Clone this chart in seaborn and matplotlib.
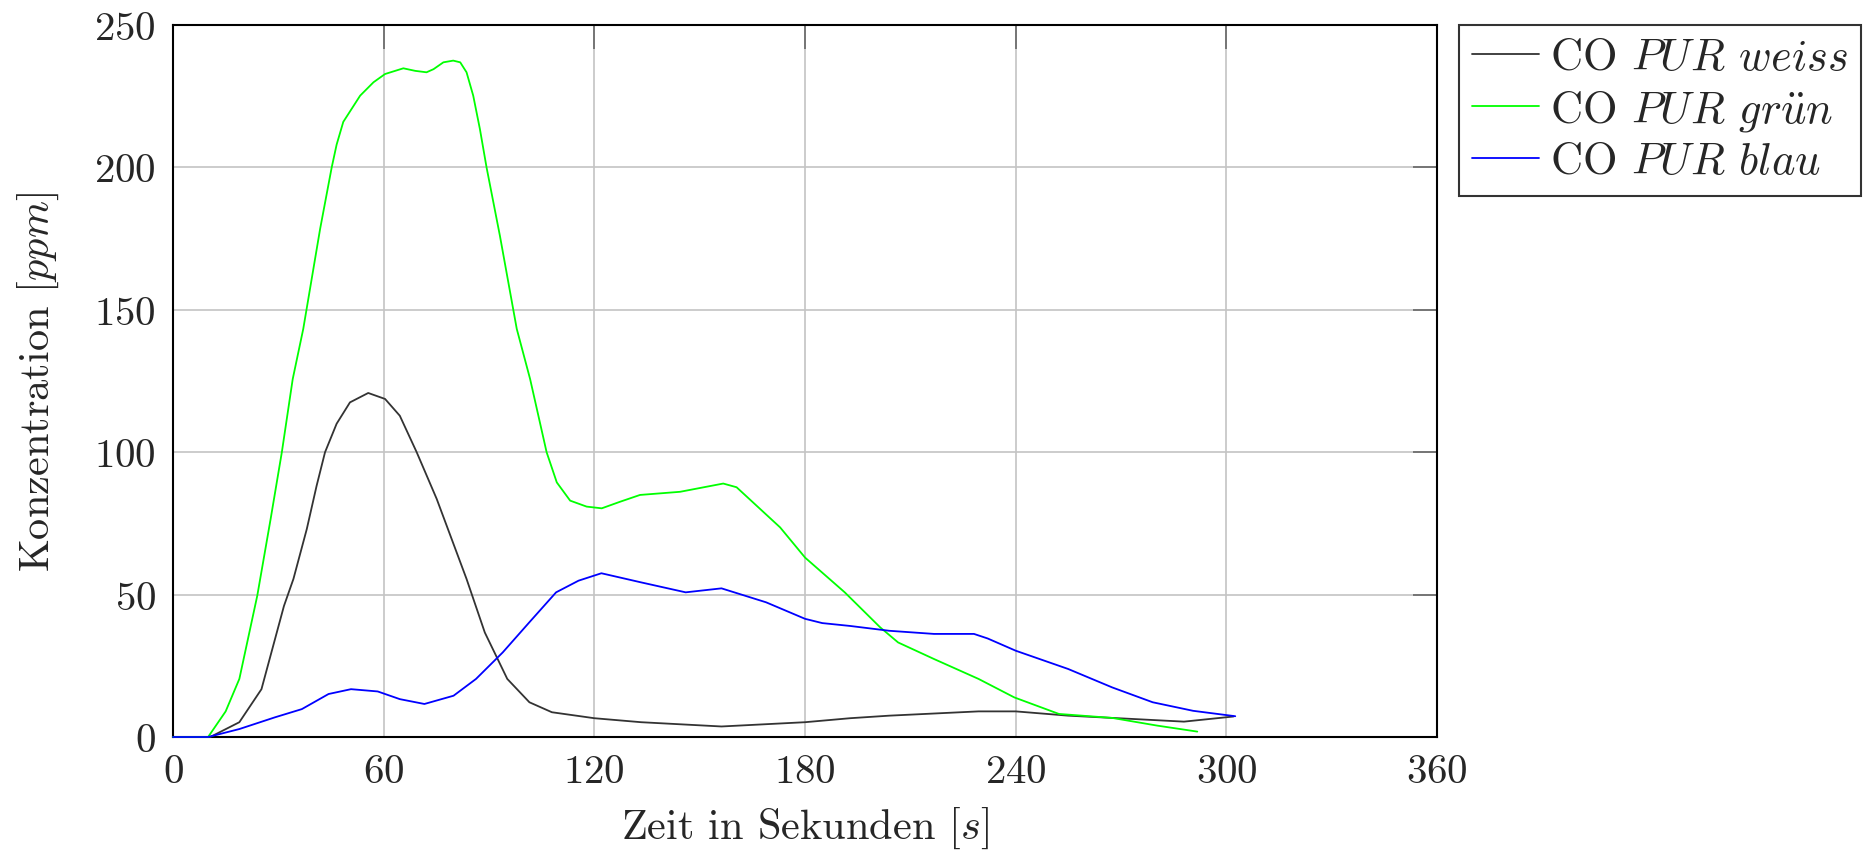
import matplotlib
matplotlib.use("Agg")
import matplotlib.pyplot as plt
import seaborn as sns
import pandas as pd

# --- data ---
t_weiss = [0, 10.6, 18.9, 25.2, 31.6, 34.3, 38.1, 40.9, 43.3, 46.6, 50.4, 55.6, 60.4, 64.6,
           69.4, 75.1, 83.6, 88.8, 95.2, 101.5, 107.9, 120, 133.3, 156.2, 180, 192.8, 204,
           229.4, 240, 254.9, 273.9, 287.9, 302]
v_weiss = [0, 0, 5.2, 16.8, 46, 55.5, 73, 88.2, 100, 110.0, 117.5, 120.8, 118.7, 112.8,
           100, 83.6, 55.5, 36.7, 20.4, 12.2, 8.7, 6.6, 5.2, 3.7, 5.2, 6.6, 7.5,
           9.0, 9.0, 7.5, 6.3, 5.4, 7.2]

t_gruen = [0, 10.0, 15.0, 18.9, 24.0, 27.8, 31.0, 34.1, 37.1, 41.9, 45.2, 46.6, 48.5, 53.3,
           57.1, 60.4, 65.6, 69.0, 72.2, 74.2, 77.0, 79.8, 81.8, 83.6, 85.5, 87.4, 89.3,
           93.1, 97.9, 101.7, 106.4, 109.3, 113.1, 117.8, 122.1, 127.3, 133.0, 144.4, 156.7,
           160.5, 172.9, 180, 191.3, 201.4, 206.5, 216.7, 229.4, 239.6, 252.3, 267.5, 280.3,
           291.7]
v_gruen = [0, 0, 9, 20.4, 49.6, 76.5, 100, 125.7, 143.3, 178.4, 200, 208, 216, 225.2,
           229.9, 232.8, 234.8, 233.9, 233.4, 234.5, 236.9, 237.5, 236.9, 233.4, 225.2, 213.5,
           200, 176, 143.3, 125.7, 100, 89.4, 83, 80.9, 80.3, 82.6, 85, 86.1, 89,
           87.7, 73.6, 63, 50.8, 38.5, 33.2, 27.4, 20.4, 13.9, 8.1, 6.7, 4.0,
           1.9]

t_blau = [0, 10.0, 18.9, 29.0, 36.7, 44.3, 50.7, 58.3, 64.6, 71.6, 79.9, 86.3, 93.9, 101.5,
          109.1, 115.5, 122.0, 133.3, 146.0, 156.2, 168.9, 180, 184.9, 192.8, 204, 216.7,
          228.1, 232, 240, 254.9, 267.5, 279, 290.5, 302.5]
v_blau = [0, 0, 2.8, 6.9, 9.8, 15.1, 16.8, 16.0, 13.3, 11.6, 14.5, 20.4, 29.7, 40.3,
          50.8, 54.9, 57.5, 54.3, 50.8, 52.2, 47.3, 41.5, 40, 39, 37.3, 36.2,
          36.2, 34.6, 30.3, 23.9, 17.4, 12.2, 9.2, 7.3]

series_labels = ["CO $PUR$ $weiss$", "CO $PUR$ $gr\\ddot{u}n$", "CO $PUR$ $blau$"]
series_colors = ["#333333", "#00ff00", "#0000ff"]
x_ticks = [0, 60, 120, 180, 240, 300, 360]
y_ticks = [0, 50, 100, 150, 200, 250]

frames = []
for t, v, lab in zip([t_weiss, t_gruen, t_blau], [v_weiss, v_gruen, v_blau], series_labels):
    frames.append(pd.DataFrame({"t": t, "v": v, "Serie": lab}))
df = pd.concat(frames, ignore_index=True)

sns.set_theme(style="white")
plt.rcParams["font.family"] = "serif"
plt.rcParams["font.serif"] = ["cmr10", "DejaVu Serif"]
plt.rcParams["mathtext.fontset"] = "cm"
plt.rcParams["axes.formatter.use_mathtext"] = True
plt.rcParams["axes.unicode_minus"] = False

fig = plt.figure(figsize=(18.64, 8.53), dpi=100)
ax = fig.add_axes([0.0928, 0.1348, 0.771 - 0.0928, 0.9695 - 0.1348])

sns.lineplot(data=df, x="t", y="v", hue="Serie", palette=dict(zip(series_labels, series_colors)),
             hue_order=series_labels, linewidth=1.3, ax=ax, sort=False, estimator=None)
for ln in ax.get_lines():
    ln.set_zorder(3)
    ln.set_clip_on(False)

ax.set_xlim(0, 360)
ax.set_ylim(0, 250)
ax.set_xticks(x_ticks)
ax.set_yticks(y_ticks)
ax.grid(True, color="#c4c4c4", linewidth=1.2)
ax.set_axisbelow(True)
for s in ax.spines.values():
    s.set_color("black")
    s.set_linewidth(1.5)
ax.tick_params(direction="in", length=17, width=1.2, color="#666666",
               top=True, right=True, labelsize=29.5, pad=12)
ax.set_xlabel("Zeit in Sekunden [$s$]", fontsize=30.5, labelpad=11)
ax.set_ylabel("Konzentration [$ppm$]", fontsize=30.5, labelpad=24)

leg = ax.legend(loc="upper left", bbox_to_anchor=(1.017, 1.0), borderaxespad=0,
                fontsize=32, frameon=True, fancybox=False, handlelength=1.5,
                handletextpad=0.25, labelspacing=0.2, borderpad=0.3)
leg.get_frame().set_edgecolor("black")
leg.get_frame().set_linewidth(1.5)
for h in leg.get_lines():
    h.set_linewidth(1.3)

fig.savefig("out.png", dpi=100)
